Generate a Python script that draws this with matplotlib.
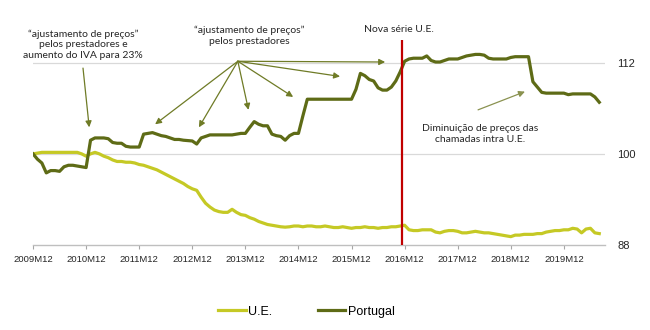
import matplotlib
matplotlib.use("Agg")
import matplotlib.pyplot as plt
import numpy as np

# monthly index values, 2009M12 = 100
tick_labels = ["2009M12", "2010M12", "2011M12", "2012M12", "2013M12", "2014M12",
               "2015M12", "2016M12", "2017M12", "2018M12", "2019M12"]

portugal = [
    100.0, 99.3, 98.8, 97.5, 97.8, 97.8, 97.7, 98.3, 98.5, 98.5, 98.4, 98.3,
    98.2, 101.8, 102.1, 102.1, 102.1, 102.0, 101.5, 101.4, 101.4, 101.0, 100.9, 100.9,
    100.9, 102.6, 102.7, 102.8, 102.6, 102.4, 102.3, 102.1, 101.9, 101.9, 101.8, 101.75,
    101.7, 101.3, 102.1, 102.3, 102.5, 102.5, 102.5, 102.5, 102.5, 102.5, 102.6, 102.7,
    102.7, 103.5, 104.25, 103.9, 103.7, 103.7, 102.6, 102.4, 102.3, 101.8, 102.4, 102.7,
    102.7, 105.0, 107.2, 107.2, 107.2, 107.2, 107.2, 107.2, 107.2, 107.2, 107.2, 107.2,
    107.2, 108.5, 110.6, 110.3, 109.8, 109.6, 108.7, 108.4, 108.4, 108.8, 109.6, 110.8,
    112.2, 112.5, 112.6, 112.6, 112.6, 112.9, 112.3, 112.1, 112.1, 112.3, 112.5, 112.5,
    112.5, 112.7, 112.9, 113.0, 113.1, 113.1, 113.0, 112.6, 112.5, 112.5, 112.5, 112.5,
    112.7, 112.8, 112.8, 112.8, 112.8, 109.5, 108.8, 108.1, 108.0, 108.0, 108.0, 108.0,
    108.0, 107.8, 107.9, 107.9, 107.9, 107.9, 107.9, 107.5, 106.8,
]

ue = [
    100.0, 100.1, 100.2, 100.2, 100.2, 100.2, 100.2, 100.2, 100.2, 100.2, 100.2, 100.0,
    99.7, 100.0, 100.2, 100.0, 99.7, 99.5, 99.2, 99.0, 99.0, 98.9, 98.9, 98.8,
    98.6, 98.5, 98.3, 98.1, 97.9, 97.6, 97.3, 97.0, 96.7, 96.4, 96.1, 95.7,
    95.4, 95.2, 94.3, 93.5, 93.0, 92.6, 92.4, 92.3, 92.3, 92.7, 92.3, 92.0,
    91.9, 91.6, 91.4, 91.1, 90.9, 90.7, 90.6, 90.5, 90.4, 90.35, 90.4, 90.5,
    90.5, 90.4, 90.5, 90.5, 90.4, 90.4, 90.5, 90.4, 90.3, 90.3, 90.4, 90.3,
    90.2, 90.3, 90.3, 90.4, 90.3, 90.3, 90.2, 90.3, 90.3, 90.4, 90.4, 90.5,
    90.6, 90.0, 89.9, 89.9, 90.0, 90.0, 90.0, 89.7, 89.6, 89.8, 89.9, 89.9,
    89.8, 89.6, 89.6, 89.7, 89.8, 89.7, 89.6, 89.6, 89.5, 89.4, 89.3, 89.2,
    89.1, 89.3, 89.3, 89.4, 89.4, 89.4, 89.5, 89.5, 89.7, 89.8, 89.9, 89.9,
    90.0, 90.0, 90.2, 90.1, 89.6, 90.1, 90.2, 89.6, 89.5,
]

months = np.arange(len(portugal))
c_ue = "#c5c925"
c_pt = "#5e6b16"
c_arrow = "#6f7b26"
txt_font = ["Lato", "DejaVu Sans"]

fig = plt.figure(figsize=(6.5, 3.3), dpi=100)
ax = fig.add_axes([0.0508, 0.2576, 0.88, 0.6212])

ax.plot(months, ue, color=c_ue, lw=2.3, label="U.E.", zorder=3)
ax.plot(months, portugal, color=c_pt, lw=2.3, label="Portugal", zorder=3)

# nova série marker
ax.axvline(83.4, color="#c00000", lw=1.6, zorder=4)

ax.set_xlim(0, 129.3)
ax.set_ylim(88, 115)
ax.set_yticks([88, 100, 112])
ax.yaxis.tick_right()
ax.tick_params(axis="y", length=0, pad=9, labelsize=8, labelcolor="#262626")
ax.set_xticks(np.arange(0, 121, 12))
ax.set_xticklabels(tick_labels)
ax.tick_params(axis="x", length=3, color="#a6a6a6", pad=4, labelsize=6.8, labelcolor="#262626")
for lab in ax.get_xticklabels() + ax.get_yticklabels():
    lab.set_family("Liberation Sans")

for s in ["top", "right", "left"]:
    ax.spines[s].set_visible(False)
ax.spines["bottom"].set_color("#bfbfbf")
ax.spines["bottom"].set_linewidth(1)
for v in [100, 112]:
    ax.axhline(v, color="#d9d9d9", lw=0.9, zorder=1)

arrow_kw = dict(arrowstyle="-|>", color=c_arrow, lw=0.9, mutation_scale=9, shrinkA=0, shrinkB=0)

# annotation 1
ax.text(11.3, 114.4, "\u201cajustamento de pre\u00e7os\u201d\npelos prestadores e\naumento do IVA para 23%",
        ha="center", va="center", fontsize=7.5, family=txt_font, color="#262626", linespacing=1.25,
        bbox=dict(facecolor="white", edgecolor="none", pad=1.5), zorder=5, clip_on=False)
ax.annotate("", xy=(12.7, 103.5), xytext=(11.3, 111.3), arrowprops=arrow_kw, zorder=5)

# annotation 2 with a fan of arrows
ax.text(48.8, 115.6, "\u201cajustamento de pre\u00e7os\u201d\npelos prestadores",
        ha="center", va="center", fontsize=7.5, family=txt_font, color="#262626", linespacing=1.25,
        zorder=5, clip_on=False)
origin = (46.3, 112.2)
targets = [(27.6, 103.9), (37.5, 103.5), (48.7, 105.8), (58.8, 107.5), (69.4, 110.2), (79.6, 112.1)]
for t in targets:
    ax.annotate("", xy=t, xytext=origin, arrowprops=arrow_kw, zorder=5)

# annotation 3
ax.text(82.7, 116.4, "Nova s\u00e9rie U.E.", ha="center", va="center", fontsize=7.5,
        family=txt_font, color="#262626", clip_on=False)

# annotation 4
ax.text(101, 102.6, "Diminui\u00e7\u00e3o de pre\u00e7os das\nchamadas intra U.E.",
        ha="center", va="center", fontsize=7.5, family=txt_font, color="#262626", linespacing=1.25)
ax.annotate("", xy=(111.2, 108.2), xytext=(100.6, 105.8),
            arrowprops=dict(arrow_kw, color="#8a9250"), zorder=5)

fig.legend(loc="center", bbox_to_anchor=(0.4715, 0.055), ncol=2, frameon=False,
           prop={"family": "Liberation Sans", "size": 9}, handlelength=2.2,
           handletextpad=0.2, columnspacing=3.6)

fig.savefig("out.png", dpi=100)
